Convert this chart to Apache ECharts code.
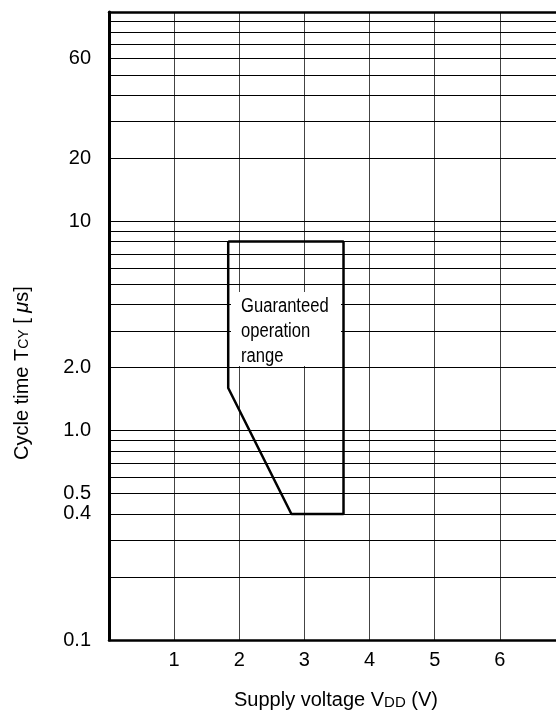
<!DOCTYPE html>
<html>
<head>
<meta charset="utf-8">
<script src="https://cdn.jsdelivr.net/npm/echarts@6/dist/echarts.min.js"></script>
<style>
html,body{margin:0;padding:0;background:#fff;}
#chart{width:556px;height:715px;}
</style>
</head>
<body>
<div id="chart"></div>
<script>
// ---- data ----
const voltTicks = [1, 2, 3, 4, 5, 6];
const gridValues = [0.2, 0.3, 0.4, 0.5, 0.6, 0.7, 0.8, 0.9,
                    1, 2, 3, 4, 5, 6, 7, 8, 9,
                    10, 20, 30, 40, 50, 60, 70, 80, 90];
const yLabelValues = [0.1, 0.4, 0.5, 1, 2, 10, 20, 60];
const yLabelTexts  = ['0.1', '0.4', '0.5', '1.0', '2.0', '10', '20', '60'];
const rangeVoltage = [1.83, 3.6, 3.6, 2.8, 1.83, 1.83];
const rangeCycle   = [8, 8, 0.4, 0.4, 1.6, 8];
const rangeText = ['Guaranteed', 'operation', 'range'];

// ---- build ----
const FONT = "'Liberation Sans', Arial, Helvetica, sans-serif";
const allLines = Array.from(new Set(gridValues.concat(yLabelValues))).sort((a, b) => a - b);
const markData = allLines.map(v => {
  const idx = yLabelValues.indexOf(v);
  return {
    yAxis: v,
    lineStyle: { color: '#000', width: 1, type: 'solid' },
    label: idx >= 0
      ? { show: true, position: 'start', distance: 18, formatter: yLabelTexts[idx],
          color: '#000', fontSize: 20, fontFamily: FONT }
      : { show: false }
  };
});
const rangeData = rangeVoltage.map((v, i) => [v, rangeCycle[i]]);

const chart = echarts.init(document.getElementById('chart'), null, { renderer: 'canvas' });
chart.setOption({
  animation: false,
  backgroundColor: '#fff',
  grid: { left: 109, top: 12, bottom: 75, right: -9, containLabel: false, outerBoundsMode: 'none' },
  xAxis: [{
    type: 'value', min: 0, max: 7, interval: 1, position: 'bottom',
    axisLine: { show: true, onZero: false, lineStyle: { color: '#000', width: 2.5 } },
    axisTick: { show: false },
    splitLine: { show: true, lineStyle: { color: '#444', width: 1 } },
    axisLabel: {
      margin: 10, color: '#000', fontSize: 20, fontFamily: FONT,
      formatter: v => (voltTicks.indexOf(v) >= 0 ? String(v) : '')
    }
  }, {
    type: 'value', min: 0, max: 7, interval: 1, position: 'top',
    axisLine: { show: true, onZero: false, lineStyle: { color: '#000', width: 2.5 } },
    axisTick: { show: false }, axisLabel: { show: false }, splitLine: { show: false }
  }],
  yAxis: {
    type: 'log', logBase: 10, min: 0.1, max: 100,
    axisLine: { show: true, onZero: false, lineStyle: { color: '#000', width: 3 } },
    axisTick: { show: false },
    axisLabel: { show: false },
    splitLine: { show: false }
  },
  series: [{
    type: 'line',
    data: rangeData,
    symbol: 'none',
    z: 5,
    lineStyle: { color: '#000', width: 2.5 },
    silent: true,
    markLine: {
      silent: true,
      symbol: ['none', 'none'],
      animation: false,
      z: 1,
      data: markData
    }
  }],
  graphic: [
    { type: 'rect', z: 100, shape: { x: 231, y: 292, width: 110, height: 74 },
      style: { fill: '#fff' } },
    { type: 'text', z: 101, x: 241, y: 294, scaleX: 0.83,
      style: { text: rangeText.join('\n'), fill: '#000', fontSize: 20, lineHeight: 25,
               fontFamily: FONT, align: 'left', verticalAlign: 'top' } },
    { type: 'text', z: 101, x: 336, y: 700,
      style: { text: 'Supply voltage V{sub|DD} (V)', fill: '#000', fontSize: 20, fontFamily: FONT,
               align: 'center', verticalAlign: 'middle',
               rich: { sub: { fontSize: 15, fontFamily: FONT, fill: '#000', padding: [5, 0, 0, 0] } } } },
    { type: 'text', z: 101, x: 22, y: 373, rotation: Math.PI / 2,
      style: { text: 'Cycle time T{sub|CY} [ {it|μ}s]', fill: '#000', fontSize: 20, fontFamily: FONT,
               align: 'center', verticalAlign: 'middle',
               rich: { sub: { fontSize: 14, fontFamily: FONT, fill: '#000', padding: [5, 0, 0, 0] },
                       it: { fontSize: 20, fontStyle: 'italic', fontFamily: FONT, fill: '#000' } } } }
  ]
});
</script>
</body>
</html>
